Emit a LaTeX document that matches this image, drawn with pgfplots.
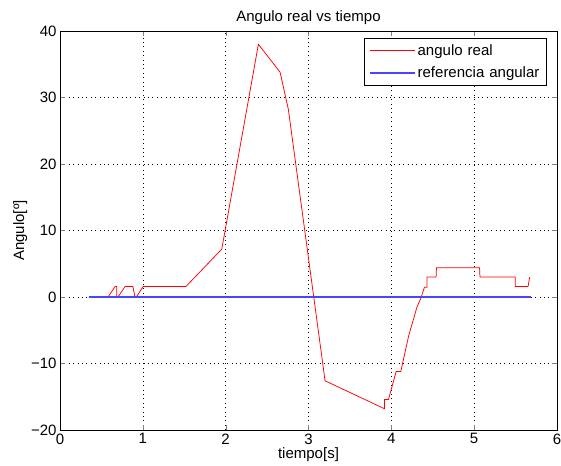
\documentclass[border=0pt]{standalone}
\usepackage{fontspec}
\setmainfont{Liberation Sans}
\usepackage{pgfplots}
\pgfplotsset{compat=1.18}
\definecolor{matred}{RGB}{255,0,0}
\definecolor{matblue}{RGB}{70,70,255}
\begin{document}
\begin{tikzpicture}
\begin{axis}[
scale only axis,
width=497pt,
height=399pt,
xmin=0, xmax=6,
ymin=-20, ymax=40,
xtick={0,1,2,3,4,5,6},
ytick={-20,-10,0,10,20,30,40},
yticklabels={−20,−10,0,10,20,30,40},
/pgf/number format/assume math mode=true,
tick label style={font=\fontsize{15}{17}\selectfont},
label style={font=\fontsize{15}{17}\selectfont},
title style={font=\fontsize{15}{17}\selectfont, yshift=-3pt},
title={Angulo real vs tiempo},
xlabel={tiempo[s]},
ylabel={Angulo[º]},
xlabel style={yshift=3pt},
ylabel style={yshift=-3pt},
grid=major,
major grid style={black, line width=0.5pt, dash pattern=on 0.8pt off 3.6pt},
tick align=inside,
major tick length=5pt,
xtick pos=both, ytick pos=both,
axis line style={line width=0.8pt},
legend style={at={(rel axis cs:0.98,0.982)}, anchor=north east, draw=black, line width=0.8pt,
  font=\fontsize{15}{17}\selectfont, cells={anchor=west, text width=122pt}, inner xsep=5pt, inner ysep=4pt, row sep=6pt},
legend image code/.code={\draw[#1] (0pt,0pt) -- (45pt,0pt);},
]
\addplot[color=matred, line width=0.75pt] coordinates {
(0.35,0) (0.58,0) (0.665,1.57) (0.685,1.57) (0.685,0) (0.70,0) (0.785,1.57)
(0.88,1.57) (0.905,0) (0.92,0) (1.005,1.57) (1.52,1.57) (1.953,7.2)
(2.395,38.0) (2.657,33.8) (2.757,28.2) (3.06,0.3) (3.20,-12.6)
(3.917,-16.8) (3.917,-15.4) (3.966,-15.4) (4.058,-11.2) (4.114,-11.2)
(4.21,-5.8) (4.31,-1.5) (4.356,-0.2) (4.40,1.48) (4.43,1.48) (4.43,3.0)
(4.54,3.0) (4.545,4.38) (5.065,4.38) (5.07,3.0) (5.495,3.0) (5.495,1.57)
(5.65,1.57) (5.67,3.0)
};
\addlegendentry{angulo real}
\addplot[color=matblue, line width=1.3pt] coordinates {(0.35,0) (5.69,0)};
\addlegendentry{\mbox{referencia angular}}
\end{axis}
\pgfresetboundingbox
\path[use as bounding box] (current axis.south west) ++(-60pt,-35pt) rectangle ([shift={(4pt,31pt)}]current axis.north east);
\end{tikzpicture}
\end{document}
